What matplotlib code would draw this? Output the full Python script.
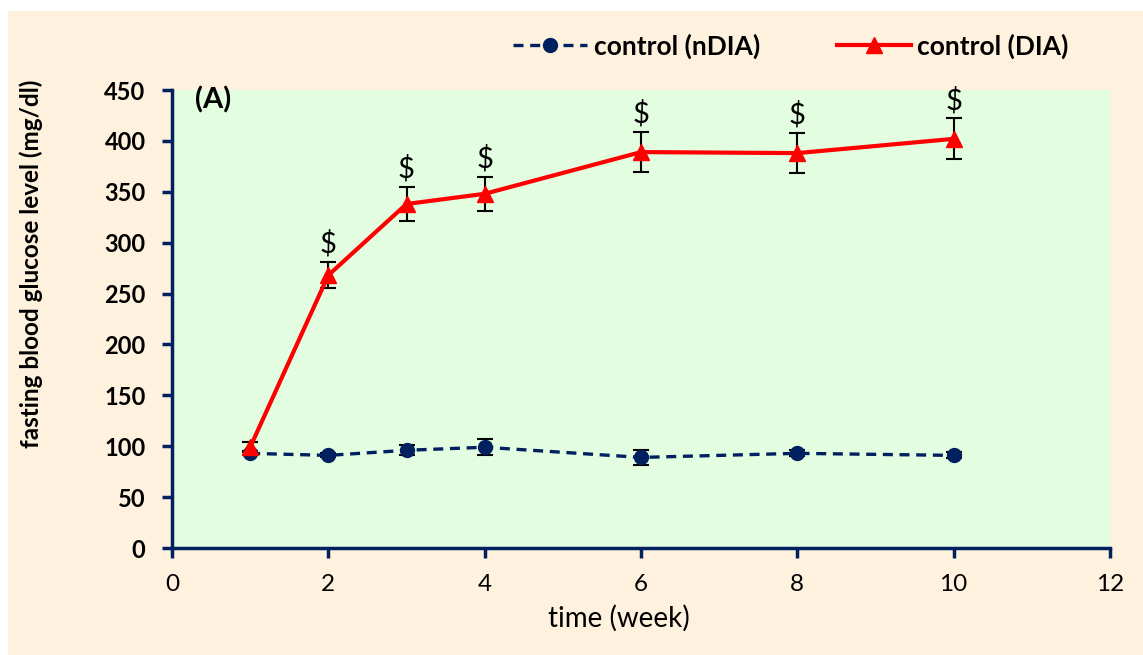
import matplotlib
matplotlib.use("Agg")
import matplotlib.pyplot as plt
from matplotlib.patches import Rectangle

plt.rcParams['font.family'] = ['Lato', 'DejaVu Sans']

weeks = [1, 2, 3, 4, 6, 8, 10]
ndia = [93, 91, 96, 99, 89, 93, 91]
ndia_err = [2, 2, 5, 8, 7, 3, 3]
dia = [99, 268, 338, 348, 389, 388, 402]
dia_err = [5, 13, 17, 17, 20, 20, 20]
sig_marks = ['', '$', '$', '$', '$', '$', '$']
x_ticks = [0, 2, 4, 6, 8, 10, 12]
y_ticks = [0, 50, 100, 150, 200, 250, 300, 350, 400, 450]

navy = '#002060'
red = '#FF0000'
cream = '#FEF2DE'
green = '#E3FDE1'

fig = plt.figure(figsize=(11.43, 6.55), dpi=100)
fig.patch.set_facecolor('white')
fig.patches.append(Rectangle((8 / 1143, 0), 1 - 8 / 1143, 1 - 11 / 655,
                             transform=fig.transFigure, facecolor=cream,
                             edgecolor='none', zorder=-10))

ax = fig.add_axes([172 / 1143, 107 / 655, 938 / 1143, 458 / 655])
ax.set_facecolor(green)

ax.errorbar(weeks, ndia, yerr=ndia_err, fmt='none', ecolor='black',
            elinewidth=1.5, capsize=6, capthick=1.5, zorder=2)
ax.errorbar(weeks, dia, yerr=dia_err, fmt='none', ecolor='black',
            elinewidth=1.5, capsize=6, capthick=1.5, zorder=2)
ax.plot(weeks, ndia, color=navy, linestyle=(0, (3, 2)), linewidth=2.4,
        marker='o', markersize=10, label='control (nDIA)', zorder=3)
ax.plot(weeks, dia, color=red, linewidth=3, marker='^', markersize=11,
        label='control (DIA)', zorder=4)

for x, y, e, s in zip(weeks, dia, dia_err, sig_marks):
    if s:
        ax.text(x, y + e + 4, s, ha='center', va='bottom', fontsize=21,
                color='black')

ax.text(0.024, 1.008, '(A)', transform=ax.transAxes, ha='left', va='top',
        fontsize=21, fontweight='bold')

ax.set_xlim(0, 12)
ax.set_ylim(0, 450)
ax.set_xticks(x_ticks)
ax.set_yticks(y_ticks)
for sp in ['top', 'right']:
    ax.spines[sp].set_visible(False)
for sp in ['left', 'bottom']:
    ax.spines[sp].set_color(navy)
    ax.spines[sp].set_linewidth(2.5)
ax.tick_params(axis='both', colors=navy, width=2.5, length=7, direction='out')
ax.tick_params(axis='x', labelcolor='black', labelsize=17.5, pad=12)
ax.tick_params(axis='y', labelcolor='black', labelsize=17, pad=12)
for lab in ax.get_yticklabels():
    lab.set_fontweight('bold')

ax.set_xlabel('time (week)', fontsize=20, labelpad=8)
ax.xaxis.set_label_coords(0.4766, -0.125)
ax.set_ylabel('fasting blood glucose level (mg/dl)', fontsize=17.5,
              fontweight='bold')
ax.yaxis.set_label_coords(-0.1375, 0.62)

leg = fig.legend(loc='center', bbox_to_anchor=(0.692, 1 - 46 / 655), ncol=2,
                 frameon=False, handlelength=2.8, columnspacing=2.9,
                 handletextpad=0.25, prop={'weight': 'bold', 'size': 19})

fig.savefig('out.png', dpi=100, facecolor=fig.get_facecolor())
